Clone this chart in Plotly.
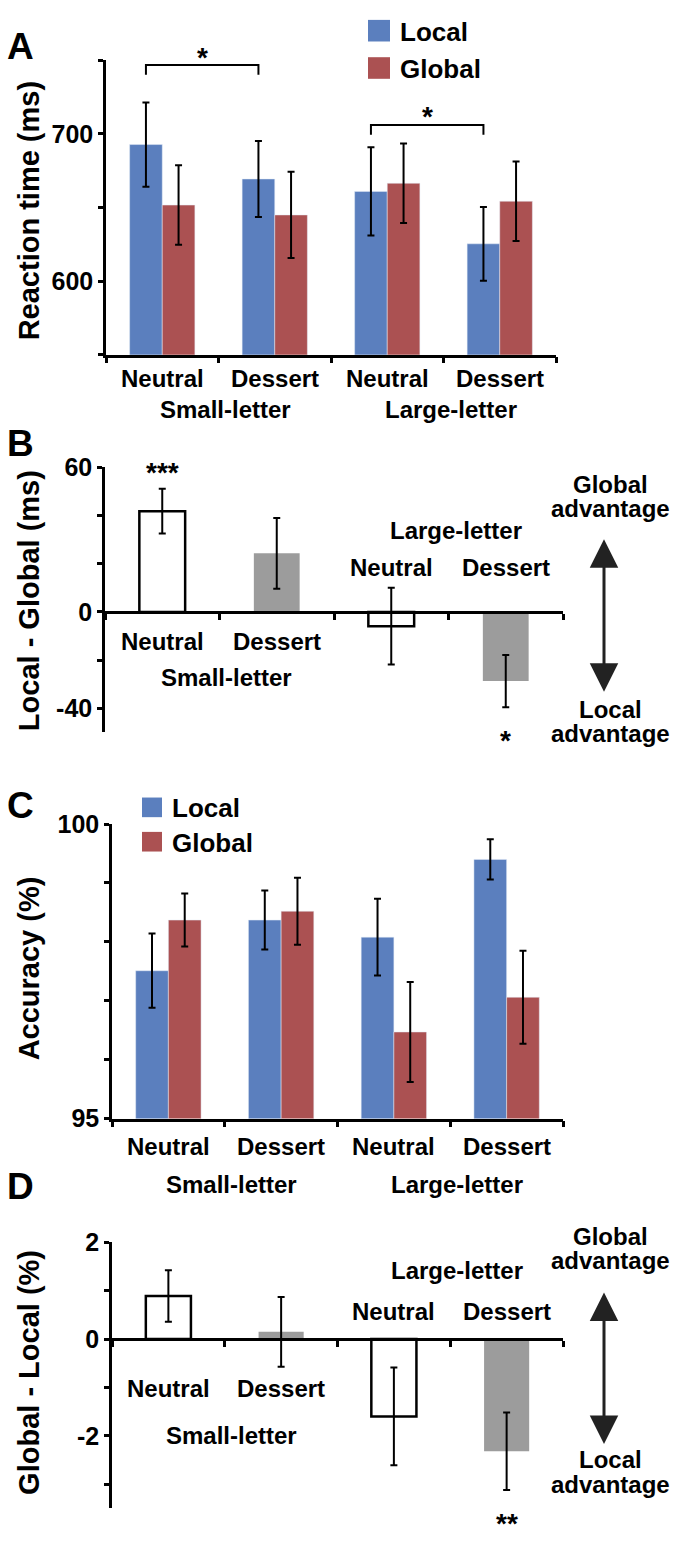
import plotly.graph_objects as go

W, H = 675, 1544
FONT = "Liberation Sans, Arial, Helvetica, sans-serif"
BLUE = "#5b7fbe"
RED = "#ab5152"
GRAY = "#9c9c9c"

# ---------------- data ----------------
conditions = ["Neutral", "Dessert", "Neutral", "Dessert"]
groups = ["Small-letter", "Large-letter"]
series_names = ["Local", "Global"]

# Panel A: reaction time (ms)
rt_local = [692.7, 669.3, 660.9, 625.3]
rt_local_err = [28.6, 25.8, 30.0, 25.0]
rt_global = [651.6, 644.9, 666.4, 654.2]
rt_global_err = [27.0, 29.3, 27.0, 27.0]
rt_sig_pairs = [(0, 1), (2, 3)]
rt_sig_level = [746.7, 706.0]
rt_sig_text = ["*", "*"]

# Panel B: Local - Global (ms)
rt_diff = [41.8, 24.3, -5.9, -28.7]
rt_diff_err = [9.3, 14.7, 15.9, 10.8]
rt_diff_sig = ["***", "", "", "*"]

# Panel C: accuracy (%)
acc_local = [97.51, 98.37, 98.08, 99.40]
acc_local_err = [0.63, 0.50, 0.65, 0.34]
acc_global = [98.37, 98.52, 96.47, 97.06]
acc_global_err = [0.45, 0.57, 0.85, 0.79]

# Panel D: Global - Local (%)
acc_diff = [0.89, 0.15, -1.60, -2.32]
acc_diff_err = [0.53, 0.72, 1.01, 0.80]
acc_diff_sig = ["", "", "", "**"]

diff_fill = ["white", GRAY, "white", GRAY]
diff_line = ["black", GRAY, "black", GRAY]
diff_lw = [2.5, 0, 2.5, 0]

x_idx = list(range(len(conditions)))

# ---------------- helpers ----------------
def py(y):
    return 1 - y / H


def pxx(x):
    return x / W


panels = [
    dict(name="A", xp=(106, 556), yp=(47, 347), yr=(550, 750),
         ticks=[550, 600, 650, 700, 750], labels=["", "600", "", "700", ""],
         title="Reaction time (ms)", title_y=201, letter_y=33, zero_axis=False),
    dict(name="B", xp=(105, 563), yp=(461.7, 731.7), yr=(-50, 60),
         ticks=[-40, -20, 0, 20, 40, 60], labels=["-40", "", "0", "", "", "60"],
         title="Local - Global (ms)", title_y=598, letter_y=437, zero_axis=True),
    dict(name="C", xp=(112, 563), yp=(825, 1125), yr=(95, 100),
         ticks=[95, 96, 97, 98, 99, 100], labels=["95", "", "", "", "", "100"],
         title="Accuracy (%)", title_y=972, letter_y=806, zero_axis=False),
    dict(name="D", xp=(112, 563), yp=(1251, 1522), yr=(-3.5, 2),
         ticks=[-3, -2, -1, 0, 1, 2], labels=["", "-2", "", "0", "", "2"],
         title="Global - Local (%)", title_y=1384, letter_y=1194, zero_axis=True),
]

fig = go.Figure()
annotations = []
shapes = []
layout_axes = {}

TICKFONT = dict(family=FONT, size=25, color="black", weight="bold")

for k, p in enumerate(panels, start=1):
    xn = "xaxis" if k == 1 else f"xaxis{k}"
    yn = "yaxis" if k == 1 else f"yaxis{k}"
    xs = "x" if k == 1 else f"x{k}"
    ys = "y" if k == 1 else f"y{k}"
    ydomain = [py(p["yp"][1]), py(p["yp"][0])]
    xdomain = [pxx(p["xp"][0]), pxx(p["xp"][1])]
    xa = dict(domain=xdomain, range=[-0.5, 3.5], showline=True, linecolor="black",
              linewidth=2.5, ticks="outside", tickvals=[-0.5, 0.5, 1.5, 2.5, 3.5],
              ticklen=6, tickwidth=2.5, tickcolor="black", showticklabels=False,
              showgrid=False, zeroline=False, fixedrange=True)
    if p["zero_axis"]:
        y0, y1 = p["yr"]
        frac = (0 - y0) / (y1 - y0)
        xa.update(anchor="free", position=ydomain[0] + frac * (ydomain[1] - ydomain[0]))
    else:
        xa.update(anchor=ys)
    ya = dict(domain=ydomain, range=list(p["yr"]), anchor=xs, showline=True,
              linecolor="black", linewidth=2.5, ticks="outside", tickvals=p["ticks"],
              ticktext=p["labels"], ticklen=5, tickwidth=2.5, tickcolor="black",
              tickfont=TICKFONT, showgrid=False, zeroline=False, fixedrange=True)
    layout_axes[xn] = xa
    layout_axes[yn] = ya
    # axis title
    annotations.append(dict(text=p["title"], xref="paper", yref="paper", x=pxx(29),
                            y=py(p["title_y"]), textangle=-90, showarrow=False,
                            xanchor="center", yanchor="middle",
                            font=dict(family=FONT, size=29, color="black", weight="bold")))
    # panel letter
    annotations.append(dict(text=p["name"], xref="paper", yref="paper", x=pxx(20),
                            y=py(p["letter_y"]), showarrow=False, xanchor="center",
                            yanchor="middle",
                            font=dict(family=FONT, size=37, color="black", weight="bold")))

ERR = dict(type="data", color="black", thickness=2, width=3.5)
BW2 = 0.29  # width of each grouped bar
BW1 = 0.40  # width of single bars

# Panel A
fig.add_bar(x=x_idx, y=rt_local, width=BW2, offset=-BW2, marker_color=BLUE,
            error_y=dict(ERR, array=rt_local_err), xaxis="x", yaxis="y", name="Local")
fig.add_bar(x=x_idx, y=rt_global, width=BW2, offset=0, marker_color=RED,
            error_y=dict(ERR, array=rt_global_err), xaxis="x", yaxis="y", name="Global")
# Panel B
fig.add_bar(x=x_idx, y=rt_diff, width=BW1, offset=-BW1 / 2,
            marker=dict(color=diff_fill, line=dict(color=diff_line, width=diff_lw)),
            error_y=dict(ERR, array=rt_diff_err), xaxis="x2", yaxis="y2", name="RT diff")
# Panel C
fig.add_bar(x=x_idx, y=acc_local, width=BW2, offset=-BW2, marker_color=BLUE,
            error_y=dict(ERR, array=acc_local_err), xaxis="x3", yaxis="y3", name="Local")
fig.add_bar(x=x_idx, y=acc_global, width=BW2, offset=0, marker_color=RED,
            error_y=dict(ERR, array=acc_global_err), xaxis="x3", yaxis="y3", name="Global")
# Panel D
fig.add_bar(x=x_idx, y=acc_diff, width=BW1, offset=-BW1 / 2,
            marker=dict(color=diff_fill, line=dict(color=diff_line, width=diff_lw)),
            error_y=dict(ERR, array=acc_diff_err), xaxis="x4", yaxis="y4", name="Acc diff")

LABFONT = dict(family=FONT, size=24, color="black", weight="bold")


def lab(text, xref, x, ypix, xshift=0):
    annotations.append(dict(text=text, xref=xref, yref="paper", x=x, y=py(ypix),
                            xshift=xshift, showarrow=False, xanchor="center",
                            yanchor="middle", font=LABFONT))


# category / group labels
for i, c in enumerate(conditions):
    lab(c, "x", i, 371)
    lab(c, "x3", i, 1153)
for g, gx in zip(groups, [0.5, 2.5]):
    lab(g, "x", gx, 403, 7)
    lab(g, "x3", gx, 1192, 7)
# B and D: small-letter labels below, large-letter above the zero line
for i, c in enumerate(conditions):
    if i < 2:
        lab(c, "x2", i, 639)
        lab(c, "x4", i, 1400)
    else:
        lab(c, "x2", i, 564)
        lab(c, "x4", i, 1321)
lab(groups[0], "x2", 0.5, 676, 7)
lab(groups[1], "x2", 2.5, 526, 7)
lab(groups[0], "x4", 0.5, 1448, 7)
lab(groups[1], "x4", 2.5, 1280, 7)

# legends (A and C)
def legend(xsq, ysq_list, size, xtext, fs):
    for name, col, ys in zip(series_names, [BLUE, RED], ysq_list):
        shapes.append(dict(type="rect", xref="paper", yref="paper",
                           x0=pxx(xsq), x1=pxx(xsq + size), y0=py(ys + size), y1=py(ys),
                           fillcolor=col, line=dict(width=0)))
        annotations.append(dict(text=name, xref="paper", yref="paper", x=pxx(xtext),
                                y=py(ys + size / 2 + 1), showarrow=False, xanchor="left",
                                yanchor="middle",
                                font=dict(family=FONT, size=fs, color="black", weight="bold")))


legend(368, [6, 44], 22, 398, 26)
legend(142, [798, 833], 20, 170, 26)

# significance brackets in A
legA = 10 * (panels[0]["yr"][1] - panels[0]["yr"][0]) / (panels[0]["yp"][1] - panels[0]["yp"][0])
for (a, b), lvl, txt in zip(rt_sig_pairs, rt_sig_level, rt_sig_text):
    x1 = a - BW2 / 2
    x2 = b - BW2 / 2
    shapes.append(dict(type="path", xref="x", yref="y",
                       path=f"M {x1},{lvl - legA} L {x1},{lvl} L {x2},{lvl} L {x2},{lvl - legA}",
                       line=dict(color="black", width=2)))
    annotations.append(dict(text=txt, xref="x", yref="y", x=(x1 + x2) / 2, y=lvl,
                            yshift=8, showarrow=False, xanchor="center", yanchor="middle",
                            font=dict(family=FONT, size=28, color="black", weight="bold")))

# stars in B and D
for xr, yr_, vals, errs, sigs in [("x2", "y2", rt_diff, rt_diff_err, rt_diff_sig),
                                   ("x4", "y4", acc_diff, acc_diff_err, acc_diff_sig)]:
    for i, (v, e, s) in enumerate(zip(vals, errs, sigs)):
        if not s:
            continue
        if v >= 0:
            yv, sh = v + e, 16
        else:
            yv, sh = v - e, -33
        annotations.append(dict(text=s, xref=xr, yref=yr_, x=i, y=yv, yshift=sh,
                                showarrow=False, xanchor="center", yanchor="middle",
                                font=dict(family=FONT, size=28, color="black", weight="bold")))

# right-hand direction labels with double arrows
for g_y, a_y, top, bot, l_y, l2_y in [(479, 504, 535, 689, 708, 733),
                                      (1245, 1270, 1302, 1455, 1472, 1498)]:
    xc = 610
    lab("Global", "paper", pxx(xc), g_y)
    lab("advantage", "paper", pxx(xc), a_y)
    lab("Local", "paper", pxx(xc), l_y)
    lab("advantage", "paper", pxx(xc), l2_y)
    annotations.append(dict(text="", xref="paper", yref="paper", x=pxx(604), y=py(top),
                            ax=0, ay=bot - top, axref="pixel", ayref="pixel",
                            showarrow=True, arrowhead=2, startarrowhead=2,
                            arrowside="end+start", arrowwidth=3, arrowsize=1.9,
                            arrowcolor="#222222", standoff=0, startstandoff=0))

fig.update_layout(
    width=W, height=H, margin=dict(l=0, r=0, t=0, b=0),
    paper_bgcolor="white", plot_bgcolor="white", barmode="overlay",
    showlegend=False, annotations=annotations, shapes=shapes,
    font=dict(family=FONT, color="black"),
    **layout_axes,
)

fig.write_html("out.html", config={"displayModeBar": False},
               post_script="document.body.style.margin='0px';")
